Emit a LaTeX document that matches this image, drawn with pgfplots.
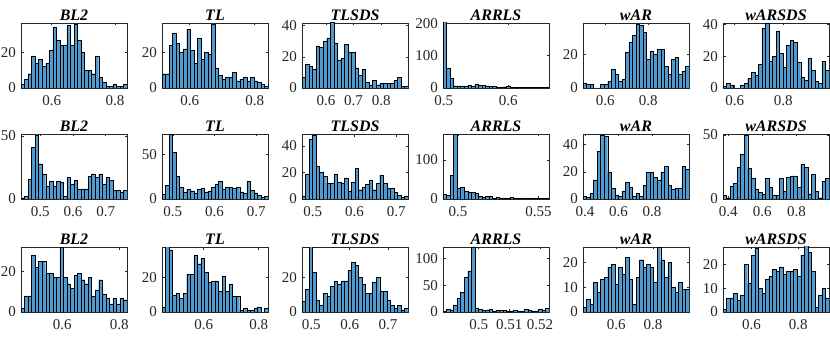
\documentclass[border=0pt]{standalone}
\usepackage{fontspec}
\setmainfont{Liberation Serif}
\usepackage{pgfplots}
\pgfplotsset{compat=1.18}
\definecolor{barblue}{RGB}{80,155,210}
\definecolor{axgray}{RGB}{38,38,38}

\pgfplotsset{
  hst/.style={
    scale only axis, width=106pt, height=65pt, anchor=south west,
    ymin=0,
    axis line style={draw=axgray, line width=0.5pt},
    tick align=inside, major tick length=2.5pt,
    every tick/.style={axgray, line width=0.5pt},
    ticklabel style={font=\fontsize{15}{15}\selectfont, text=axgray},
    xticklabel style={yshift=-4pt},
    yticklabel style={xshift=-1.5pt},
    /pgf/number format/assume math mode=true,
    /pgf/number format/fixed,
    scaled ticks=false,
    title style={font=\fontsize{16}{16}\selectfont\bfseries\itshape, yshift=-7.5pt},
  },
}

% x, y (pt), title, xmin, xmax, ymax, xticks, yticks, 30 bin counts
\newcommand{\hist}[9]{%
  \begin{axis}[hst, at={(#1pt,#2pt)}, title={#3},
      xmin=#4, xmax=#5, ymax=#6, xtick={#7}, ytick={#8}]
    \addplot[ybar interval, fill=barblue, draw=black, line width=0.4pt]
      table[x expr={#4+\coordindex*(#5-#4)/30}, y index=0, header=false, row sep=\\] {#9\\0\\};
  \end{axis}}

\begin{document}
\begin{tikzpicture}
\useasboundingbox (0,0) rectangle (830pt,337pt);

% row 1
\hist{21}{249}{BL2}{0.503}{0.838}{36.5}{0.6,0.8}{0,20}
  {2\\5\\8\\18\\14\\16\\12\\14\\21\\34\\27\\24\\24\\35\\24\\36\\27\\20\\10\\10\\8\\18\\6\\3\\1\\1\\2\\1\\1\\2}
\hist{162}{249}{TL}{0.515}{0.841}{36.5}{0.6,0.8}{0,20}
  {8\\8\\24\\31\\25\\20\\22\\33\\21\\14\\28\\16\\20\\19\\36\\11\\7\\5\\6\\6\\9\\4\\5\\6\\4\\6\\4\\3\\2\\1}
\hist{302}{249}{TLSDS}{0.513}{0.897}{41.7}{0.6,0.7,0.8}{0,20,40}
  {7\\15\\14\\12\\27\\26\\30\\32\\42\\29\\18\\19\\28\\23\\23\\13\\8\\12\\4\\2\\5\\2\\3\\3\\3\\3\\5\\7\\1\\1}
\hist{443}{249}{ARRLS}{0.499}{0.663}{201}{0.5,0.6}{0,100,200}
  {210\\60\\30\\7\\7\\6\\5\\8\\6\\12\\8\\8\\7\\5\\6\\3\\2\\4\\5\\3\\1\\1\\2\\1\\1\\1\\1\\1\\1\\2}
\hist{583}{249}{wAR}{0.497}{0.99}{38.5}{0.6,0.8}{0,20}
  {3\\2\\2\\0\\0\\2\\2\\4\\11\\8\\4\\5\\21\\27\\31\\38\\37\\33\\17\\22\\20\\23\\23\\13\\8\\17\\18\\8\\10\\13}
\hist{723}{249}{wARSDS}{0.552}{0.989}{41}{0.6,0.8}{0,20,40}
  {1\\3\\2\\0\\0\\2\\3\\6\\10\\8\\15\\38\\41\\17\\20\\36\\22\\13\\27\\30\\29\\16\\7\\5\\19\\11\\4\\3\\17\\11}

% row 2
\hist{21}{138}{BL2}{0.441}{0.765}{51.6}{0.5,0.6,0.7}{0,50}
  {1\\2\\16\\41\\51\\28\\20\\10\\14\\10\\14\\13\\2\\17\\12\\15\\8\\8\\8\\18\\20\\17\\20\\12\\17\\15\\7\\7\\5\\7}
\hist{162}{138}{TL}{0.474}{0.728}{72.6}{0.5,0.6,0.7}{0,50}
  {5\\15\\72\\52\\25\\13\\8\\11\\9\\6\\11\\12\\8\\9\\13\\17\\20\\11\\13\\13\\12\\13\\8\\6\\20\\10\\7\\4\\2\\3}
\hist{302}{138}{TLSDS}{0.474}{0.728}{49}{0.5,0.6,0.7}{0,20,40}
  {2\\19\\45\\48\\25\\20\\17\\12\\12\\19\\13\\12\\16\\6\\13\\23\\7\\9\\11\\14\\7\\12\\18\\12\\8\\8\\5\\3\\1\\2}
\hist{443}{138}{ARRLS}{0.4907}{0.5566}{166}{0.5,0.55}{0,100}
  {12\\10\\60\\165\\27\\30\\20\\17\\17\\15\\7\\5\\6\\6\\2\\4\\3\\3\\3\\4\\3\\2\\1\\1\\2\\1\\3\\2\\1\\1}
\hist{583}{138}{wAR}{0.388}{1.02}{47.8}{0.4,0.6,0.8}{0,20,40}
  {2\\1\\4\\14\\35\\47\\46\\20\\8\\3\\2\\6\\12\\9\\2\\4\\2\\10\\20\\20\\16\\14\\20\\24\\10\\7\\8\\8\\24\\22}
\hist{723}{138}{wARSDS}{0.37}{0.99}{50.8}{0.4,0.6,0.8}{0,50}
  {3\\1\\10\\12\\25\\35\\50\\24\\16\\8\\5\\4\\16\\9\\3\\3\\16\\6\\17\\18\\18\\9\\27\\25\\4\\19\\6\\1\\14\\16}

% row 3
\hist{21}{25}{BL2}{0.455}{0.827}{32.2}{0.6,0.8}{0,20}
  {2\\8\\8\\28\\22\\25\\25\\19\\19\\17\\17\\32\\17\\14\\12\\18\\19\\16\\14\\17\\8\\11\\16\\9\\7\\4\\7\\4\\7\\6}
\hist{162}{25}{TL}{0.4485}{0.834}{37.7}{0.6,0.8}{0,20}
  {3\\38\\36\\10\\11\\8\\11\\22\\22\\33\\28\\31\\23\\17\\18\\18\\12\\21\\12\\16\\9\\9\\1\\2\\1\\1\\2\\3\\0\\2}
\hist{302}{25}{TLSDS}{0.4757}{0.752}{37.7}{0.5,0.6,0.7}{0,20}
  {6\\13\\38\\23\\7\\4\\11\\9\\15\\18\\16\\18\\18\\24\\29\\27\\20\\16\\11\\11\\17\\20\\12\\12\\7\\4\\2\\4\\1\\2}
\hist{443}{25}{ARRLS}{0.4884}{0.5229}{122}{0.5,0.51,0.52}{0,50,100}
  {1\\5\\4\\12\\25\\37\\65\\77\\122\\8\\5\\3\\4\\5\\2\\3\\3\\3\\2\\2\\3\\2\\2\\5\\3\\2\\2\\6\\3\\7}
\hist{583}{25}{wAR}{0.42}{0.995}{26.1}{0.6,0.8}{0,10,20}
  {2\\5\\3\\12\\8\\13\\14\\18\\19\\11\\18\\15\\22\\13\\3\\14\\21\\18\\19\\18\\12\\26\\21\\14\\20\\10\\8\\12\\9\\9}
\hist{723}{25}{wARSDS}{0.479}{0.931}{27.4}{0.6,0.8}{0,10,20}
  {1\\6\\6\\8\\5\\7\\20\\12\\24\\27\\10\\8\\14\\15\\18\\17\\19\\16\\17\\17\\18\\15\\24\\28\\25\\17\\2\\7\\10\\6}
\end{tikzpicture}
\end{document}
